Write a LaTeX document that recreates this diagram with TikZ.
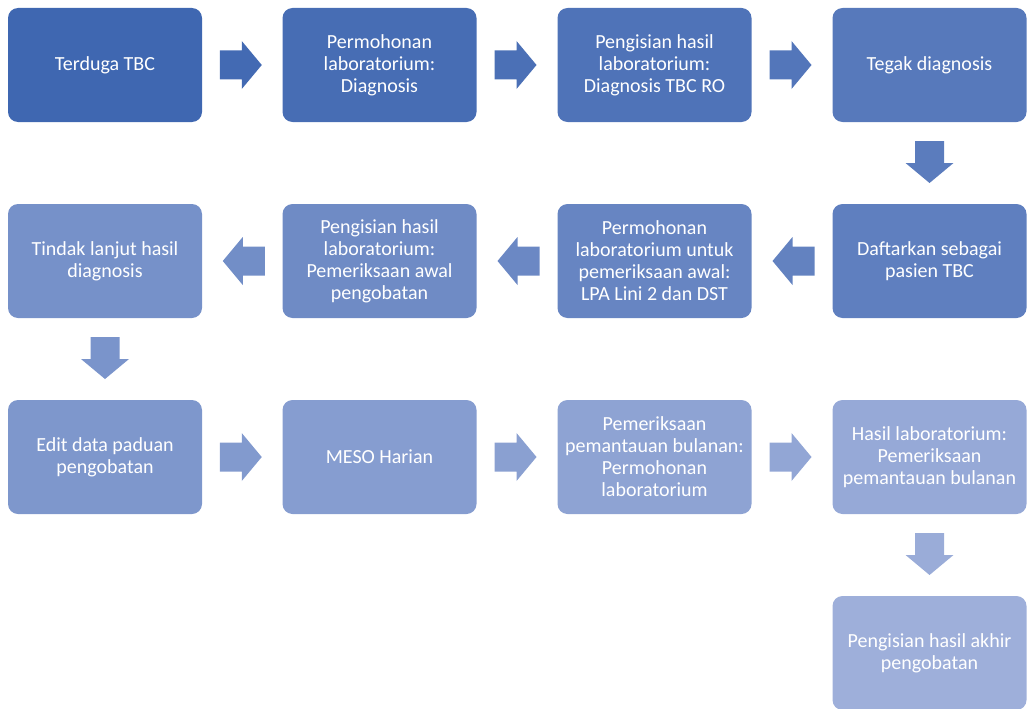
\documentclass[tikz,border=0pt]{standalone}
\usepackage{fontspec}
\setmainfont{Carlito}
\usetikzlibrary{calc}
\definecolor{cstart}{RGB}{63,103,177}
\definecolor{cend}{RGB}{158,175,218}
\tikzset{
  stepbox/.style={rectangle, rounded corners=10pt, minimum width=194pt,
    minimum height=114pt, inner sep=0pt, text=white, align=center,
    font=\fontsize{20}{22}\selectfont, fill=cend!#1!cstart},
  pics/blockarrow/.style={code={
    \fill[cend!#1!cstart] (-21,-14.5) -- (1,-14.5) -- (1,-24) -- (21,0)
      -- (1,24) -- (1,14.5) -- (-21,14.5) -- cycle;}}
}
\begin{document}
\begin{tikzpicture}[x=1pt,y=-1pt]
\useasboundingbox (0,0) rectangle (1028,709);
% row 1
\node[stepbox=0]     (b1)  at (105,65)    {Terduga TBC};
\node[stepbox=8.33]  (b2)  at (379.5,65)  {Permohonan\\laboratorium:\\Diagnosis};
\node[stepbox=16.67] (b3)  at (654.5,65)  {Pengisian hasil\\laboratorium:\\Diagnosis TBC RO};
\node[stepbox=25]    (b4)  at (929.5,65)  {Tegak diagnosis};
% row 2
\node[stepbox=33.33] (b5)  at (929.5,261) {Daftarkan sebagai\\pasien TBC};
\node[stepbox=41.67] (b6)  at (654.5,261) {Permohonan\\laboratorium untuk\\pemeriksaan awal:\\LPA Lini 2 dan DST};
\node[stepbox=50]    (b7)  at (379.5,261) {Pengisian hasil\\laboratorium:\\Pemeriksaan awal\\pengobatan};
\node[stepbox=58.33] (b8)  at (105,261)   {Tindak lanjut hasil\\diagnosis};
% row 3
\node[stepbox=66.67] (b9)  at (105,457)   {Edit data paduan\\pengobatan};
\node[stepbox=75]    (b10) at (379.5,457) {MESO Harian};
\node[stepbox=83.33] (b11) at (654.5,457) {Pemeriksaan\\pemantauan bulanan:\\Permohonan\\laboratorium};
\node[stepbox=91.67] (b12) at (929.5,457) {Hasil laboratorium:\\Pemeriksaan\\pemantauan bulanan};
% row 4
\node[stepbox=100]   (b13) at (929.5,653) {Pengisian hasil akhir\\pengobatan};
% block arrows between consecutive steps
\path ($(b1.east)!0.5!(b2.west)+(-1.5,0)$) pic {blockarrow=4.17};
\path ($(b2.east)!0.5!(b3.west)+(-1.5,0)$) pic {blockarrow=12.5};
\path ($(b3.east)!0.5!(b4.west)+(-1.5,0)$) pic {blockarrow=20.83};
\path ($(b4.south)!0.5!(b5.north)+(0,-1)$) pic[rotate=-90] {blockarrow=29.17};
\path ($(b5.west)!0.5!(b6.east)+(1.5,0)$) pic[rotate=180] {blockarrow=37.5};
\path ($(b6.west)!0.5!(b7.east)+(1.5,0)$) pic[rotate=180] {blockarrow=45.83};
\path ($(b7.west)!0.5!(b8.east)+(1.5,0)$) pic[rotate=180] {blockarrow=54.17};
\path ($(b8.south)!0.5!(b9.north)+(0,-1)$) pic[rotate=-90] {blockarrow=62.5};
\path ($(b9.east)!0.5!(b10.west)+(-1.5,0)$) pic {blockarrow=70.83};
\path ($(b10.east)!0.5!(b11.west)+(-1.5,0)$) pic {blockarrow=79.17};
\path ($(b11.east)!0.5!(b12.west)+(-1.5,0)$) pic {blockarrow=87.5};
\path ($(b12.south)!0.5!(b13.north)+(0,-1)$) pic[rotate=-90] {blockarrow=95.83};
\end{tikzpicture}
\end{document}
